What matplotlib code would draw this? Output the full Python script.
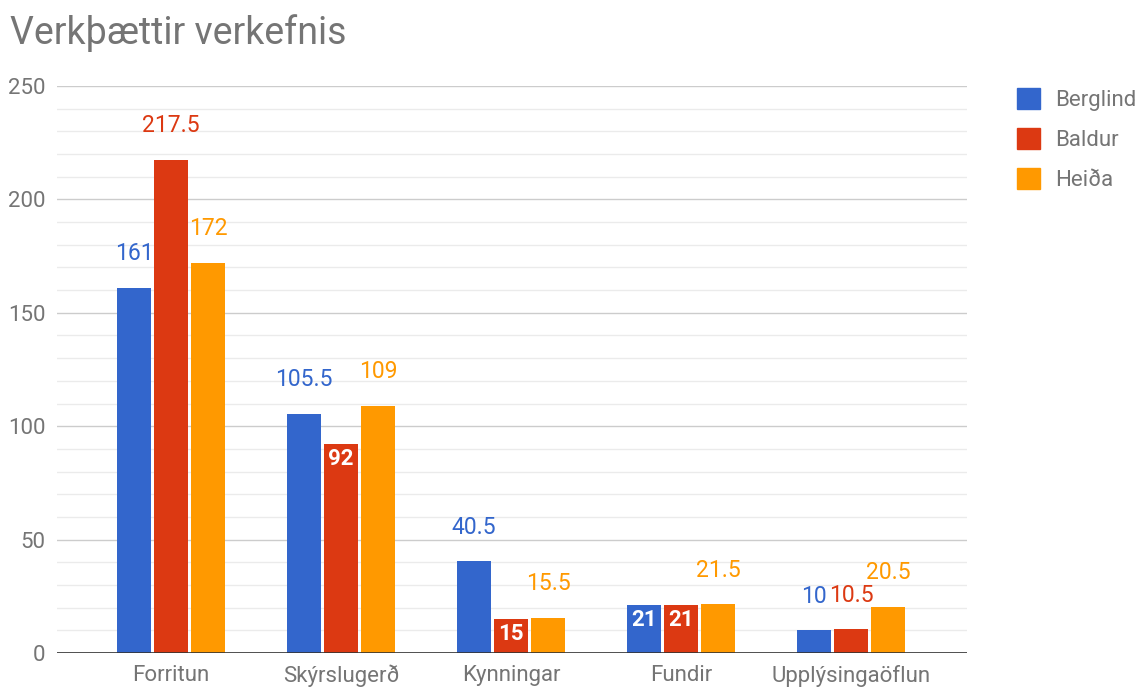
import matplotlib
matplotlib.use("Agg")
import matplotlib.pyplot as plt
from matplotlib.patches import Patch
from matplotlib.ticker import MultipleLocator
import numpy as np

plt.rcParams['font.family'] = ['Roboto', 'DejaVu Sans']

title = "Verkþættir verkefnis"
categories = ["Forritun", "Skýrslugerð", "Kynningar", "Fundir", "Upplýsingaöflun"]
series_names = ["Berglind", "Baldur", "Heiða"]
berglind = [161, 105.5, 40.5, 21, 10]
baldur = [217.5, 92, 15, 21, 10.5]
heida = [172, 109, 15.5, 21.5, 20.5]
values = [berglind, baldur, heida]
# which data labels are drawn inside the bar (white) rather than above it
label_inside = [
    [False, False, False, True, False],
    [False, True, True, True, False],
    [False, False, False, False, False],
]
colors = ["#3366CC", "#DC3912", "#FF9900"]
gray = "#757575"

W, H = 1142, 687
fig = plt.figure(figsize=(W / 100, H / 100), dpi=100)
ax = fig.add_axes([57 / W, 34 / H, (967 - 57) / W, (653 - 86) / H])

x = np.arange(len(categories))
width = 0.205
pitch = 0.218
for i, (vals, col) in enumerate(zip(values, colors)):
    xs = x + (i - 1) * pitch
    ax.bar(xs, vals, width=width, color=col, zorder=3, label=series_names[i])
    for xi, v, ins in zip(xs, vals, label_inside[i]):
        txt = f"{v:g}"
        if ins:
            ax.annotate(txt, (xi, v), xytext=(0, -10.5), textcoords="offset points",
                        ha="center", va="center", color="white", fontsize=16,
                        fontweight="bold", zorder=4)
        else:
            ax.annotate(txt, (xi, v), xytext=(0, 24.5), textcoords="offset points",
                        ha="center", va="center", color=col, fontsize=16.5, zorder=4)

ax.set_xlim((57 - 171) / 170, (967 - 171) / 170)
ax.set_ylim(0, 250)
ax.yaxis.set_major_locator(MultipleLocator(50))
ax.yaxis.set_minor_locator(MultipleLocator(10))
ax.grid(axis="y", which="major", color="#CCCCCC", linewidth=1.0, zorder=0)
ax.grid(axis="y", which="minor", color="#EBEBEB", linewidth=1.0, zorder=0)
ax.axhline(0, color="#333333", linewidth=1.2, zorder=5)
ax.set_xticks(x)
ax.set_xticklabels(categories)
ax.tick_params(axis="both", which="both", length=0)
ax.tick_params(axis="both", labelsize=16, labelcolor=gray)
ax.tick_params(axis="x", pad=8.5)
ax.tick_params(axis="y", pad=8.5)
for s in ax.spines.values():
    s.set_visible(False)

fig.text(10 / W, 1 - 33 / H, title, fontsize=27, color=gray, ha="left", va="center")

handles = [Patch(facecolor=c, edgecolor=c) for c in colors]
leg = fig.legend(handles, series_names, loc="upper left",
                 bbox_to_anchor=(997 / W, 1 - 68 / H), frameon=False,
                 fontsize=16, handlelength=1.05, handleheight=1.05,
                 handletextpad=0.65, labelspacing=0.78, borderpad=0.4)
for t in leg.get_texts():
    t.set_color(gray)

fig.savefig("out.png", dpi=100)
